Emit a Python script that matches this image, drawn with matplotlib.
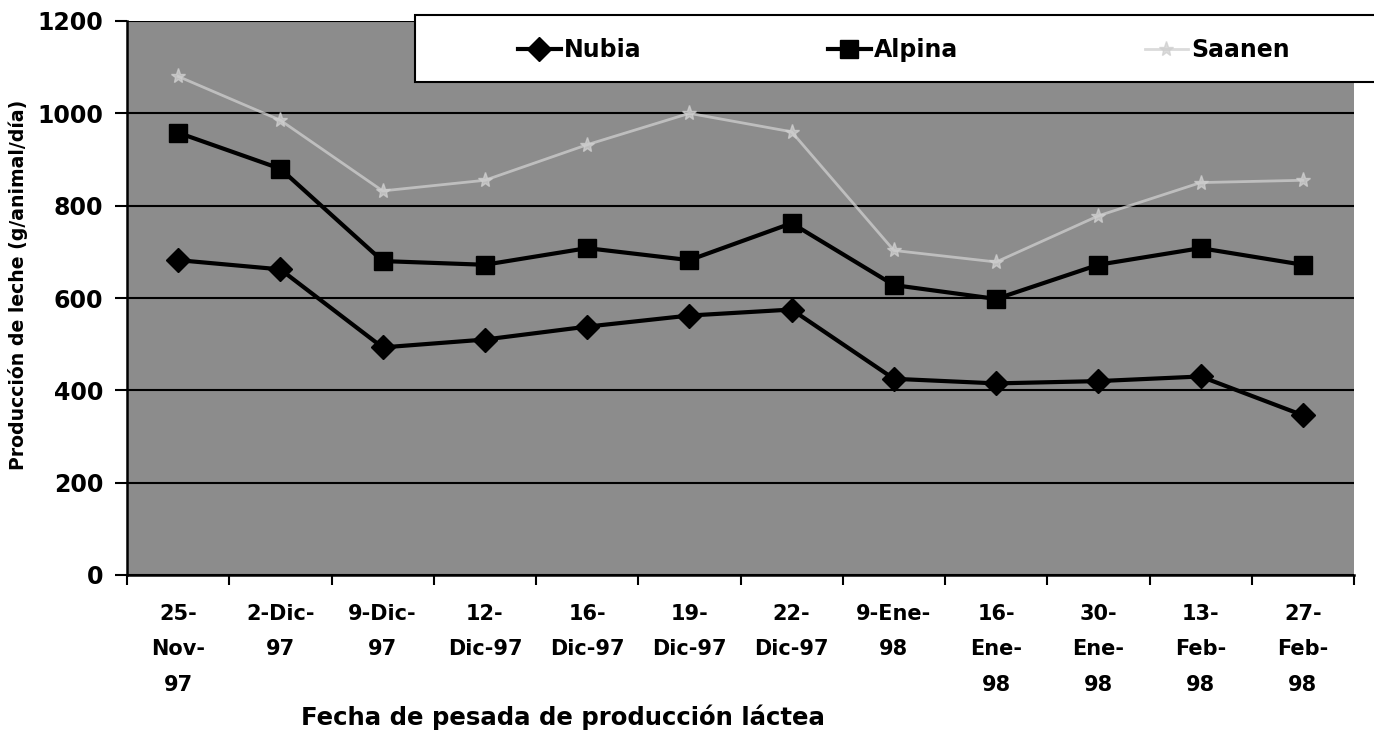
import matplotlib
matplotlib.use("Agg")
import matplotlib.pyplot as plt
from matplotlib.patches import Rectangle
import numpy as np

categories = ["25-\nNov-\n97", "2-Dic-\n97", "9-Dic-\n97", "12-\nDic-97", "16-\nDic-97",
              "19-\nDic-97", "22-\nDic-97", "9-Ene-\n98", "16-\nEne-\n98", "30-\nEne-\n98",
              "13-\nFeb-\n98", "27-\nFeb-\n98"]
nubia = [682, 662, 493, 510, 538, 562, 575, 425, 415, 420, 430, 346]
alpina = [958, 880, 680, 672, 708, 682, 762, 628, 598, 672, 708, 672]
saanen = [1080, 985, 832, 855, 932, 1000, 960, 703, 678, 778, 850, 855]
yticks = [0, 200, 400, 600, 800, 1000, 1200]

plt.rcParams['font.family'] = ['DejaVu Sans']
plt.rcParams['font.weight'] = 'bold'

W, H = 1374, 730
fig = plt.figure(figsize=(W / 100, H / 100), dpi=100)
ax = fig.add_axes([127 / W, 1 - 575 / H, 1227 / W, 554 / H])
ax.set_facecolor('#8c8c8c')

x = np.arange(len(categories))
ax.plot(x, nubia, color='black', lw=3, marker='D', ms=12, label='Nubia', zorder=3)
ax.plot(x, alpina, color='black', lw=3, marker='s', ms=13, label='Alpina', zorder=3)
ax.plot(x, saanen, color='#cfcfcf', lw=2, marker='*', ms=11, label='Saanen', zorder=2, alpha=0.75)

ax.set_xlim(-0.5, 11.5)
ax.set_ylim(0, 1200)
ax.set_yticks(yticks)
ax.set_yticklabels([str(v) for v in yticks], fontsize=17, fontweight='bold')
ax.yaxis.grid(True, color='black', lw=1.5)
ax.set_axisbelow(True)

ax.set_xticks(np.arange(-0.5, 12, 1))
ax.set_xticklabels([])
ax.set_xticks(x, minor=True)
ax.set_xticklabels(categories, minor=True, fontsize=15, fontweight='bold', linespacing=1.95)
ax.tick_params(axis='x', which='major', direction='out', length=7, width=1.5)
ax.tick_params(axis='x', which='minor', length=0, pad=21)
ax.tick_params(axis='y', direction='out', length=9, width=1.5, pad=8)

for s in ['top', 'right']:
    ax.spines[s].set_visible(False)
for s in ['left', 'bottom']:
    ax.spines[s].set_linewidth(1.8)

ax.set_ylabel('Producción de leche (g/animal/día)', fontsize=13.6, fontweight='bold',
              va='center', ha='center')
ax.yaxis.set_label_coords(-0.0888, 0.523)
ax.set_xlabel('Fecha de pesada de producción láctea', fontsize=17.6, fontweight='bold',
              va='center', ha='center')
ax.xaxis.set_label_coords(0.355, -0.256)

# legend box
fig.patches.append(Rectangle((415 / W, 1 - 82 / H), (W + 5 - 415) / W, 67 / H,
                             transform=fig.transFigure, facecolor='white',
                             edgecolor='black', lw=1.5, zorder=5))
leg = fig.legend(*ax.get_legend_handles_labels(), loc='center left',
                 bbox_to_anchor=(518 / W, 1 - 50 / H), ncol=3, frameon=False,
                 fontsize=17, columnspacing=7.9, handlelength=1.8, handletextpad=0.15,
                 borderpad=0, borderaxespad=0)
leg.set_zorder(6)

fig.savefig('out.png', dpi=100)
